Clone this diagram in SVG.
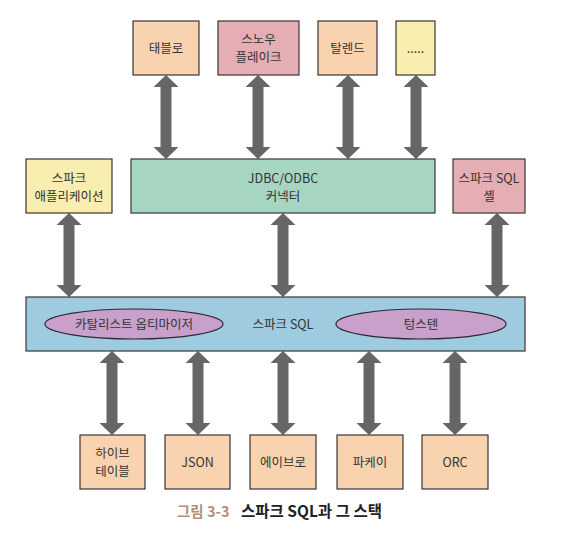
<svg xmlns="http://www.w3.org/2000/svg" xmlns:xlink="http://www.w3.org/1999/xlink" width="573" height="537" viewBox="0 0 573 537">
<style>
.box{stroke:#3b3532;stroke-width:1.2}
.peach{fill:#f9d3b0}
.pink{fill:#e4aeb4}
.yellow{fill:#f7eeb0}
.mint{fill:#a6d6c2}
.blue{fill:#9ecbe0}
.ell{fill:#c9a0cb;stroke:#2d2a2e;stroke-width:1.2}
text{font-family:"Noto Sans CJK KR","Noto Sans",sans-serif;font-size:12.5px;fill:#333;text-anchor:middle}
.arrow{fill:#666669}
.cap1{font-size:14.5px;font-weight:bold;fill:#b48e7a;text-anchor:start}
.cap2{font-size:15.5px;font-weight:bold;fill:#222;text-anchor:start}
</style>
<defs>
<path id="darr" d="M0,0 L12.5,12 L5.5,12 L5.5,72 L12.5,72 L0,84 L-12.5,72 L-5.5,72 L-5.5,12 L-12.5,12 Z"/>
</defs>
<g id="connectors" class="arrow">
<use xlink:href="#darr" href="#darr" transform="translate(166,75)"/>
<use xlink:href="#darr" href="#darr" transform="translate(258,75)"/>
<use xlink:href="#darr" href="#darr" transform="translate(348,75)"/>
<use xlink:href="#darr" href="#darr" transform="translate(416,75)"/>
<use xlink:href="#darr" href="#darr" transform="translate(69,213)"/>
<use xlink:href="#darr" href="#darr" transform="translate(283,213)"/>
<use xlink:href="#darr" href="#darr" transform="translate(497,213)"/>
<use xlink:href="#darr" href="#darr" transform="translate(112,351)"/>
<use xlink:href="#darr" href="#darr" transform="translate(198,351)"/>
<use xlink:href="#darr" href="#darr" transform="translate(283,351)"/>
<use xlink:href="#darr" href="#darr" transform="translate(369,351)"/>
<use xlink:href="#darr" href="#darr" transform="translate(455,351)"/>
</g>
<g id="tableau"><rect class="box peach" x="133" y="21" width="66" height="54"/><text x="166" y="53">태블로</text></g>
<g id="snowflake"><rect class="box pink" x="218" y="21" width="81" height="54"/><text x="258.5" y="44">스노우</text><text x="258.5" y="62">플레이크</text></g>
<g id="talend"><rect class="box peach" x="318" y="21" width="59" height="54"/><text x="347.5" y="53">탈렌드</text></g>
<g id="etc"><rect class="box yellow" x="396" y="21" width="39" height="54"/><text x="415.5" y="53">.....</text></g>
<g id="spark-app"><rect class="box yellow" x="26" y="159" width="86" height="54"/><text x="69" y="183">스파크</text><text x="69" y="201">애플리케이션</text></g>
<g id="jdbc"><rect class="box mint" x="131" y="159" width="304" height="54"/><text x="283" y="183">JDBC/ODBC</text><text x="283" y="201">커넥터</text></g>
<g id="spark-shell"><rect class="box pink" x="453" y="159" width="72" height="54"/><text x="489" y="183">스파크 SQL</text><text x="489" y="201">셸</text></g>
<g id="spark-sql"><rect class="box blue" x="26" y="297" width="499" height="54"/><text x="283" y="329">스파크 SQL</text></g>
<g id="catalyst"><ellipse class="ell" cx="134" cy="324" rx="89" ry="15"/><text x="134" y="329">카탈리스트 옵티마이저</text></g>
<g id="tungsten"><ellipse class="ell" cx="421" cy="324" rx="85" ry="15"/><text x="421" y="329">텅스텐</text></g>
<g id="hive"><rect class="box peach" x="80" y="435" width="65" height="54"/><text x="112.5" y="458">하이브</text><text x="112.5" y="476">테이블</text></g>
<g id="json"><rect class="box peach" x="165" y="435" width="65" height="54"/><text x="197.5" y="467">JSON</text></g>
<g id="avro"><rect class="box peach" x="250" y="435" width="66" height="54"/><text x="283" y="467">에이브로</text></g>
<g id="parquet"><rect class="box peach" x="337" y="435" width="66" height="54"/><text x="370" y="467">파케이</text></g>
<g id="orc"><rect class="box peach" x="422" y="435" width="66" height="54"/><text x="455" y="467">ORC</text></g>
<g id="caption"><text class="cap1" x="177" y="517">그림 3-3</text><text class="cap2" x="241" y="517">스파크 SQL과 그 스택</text></g>
</svg>
